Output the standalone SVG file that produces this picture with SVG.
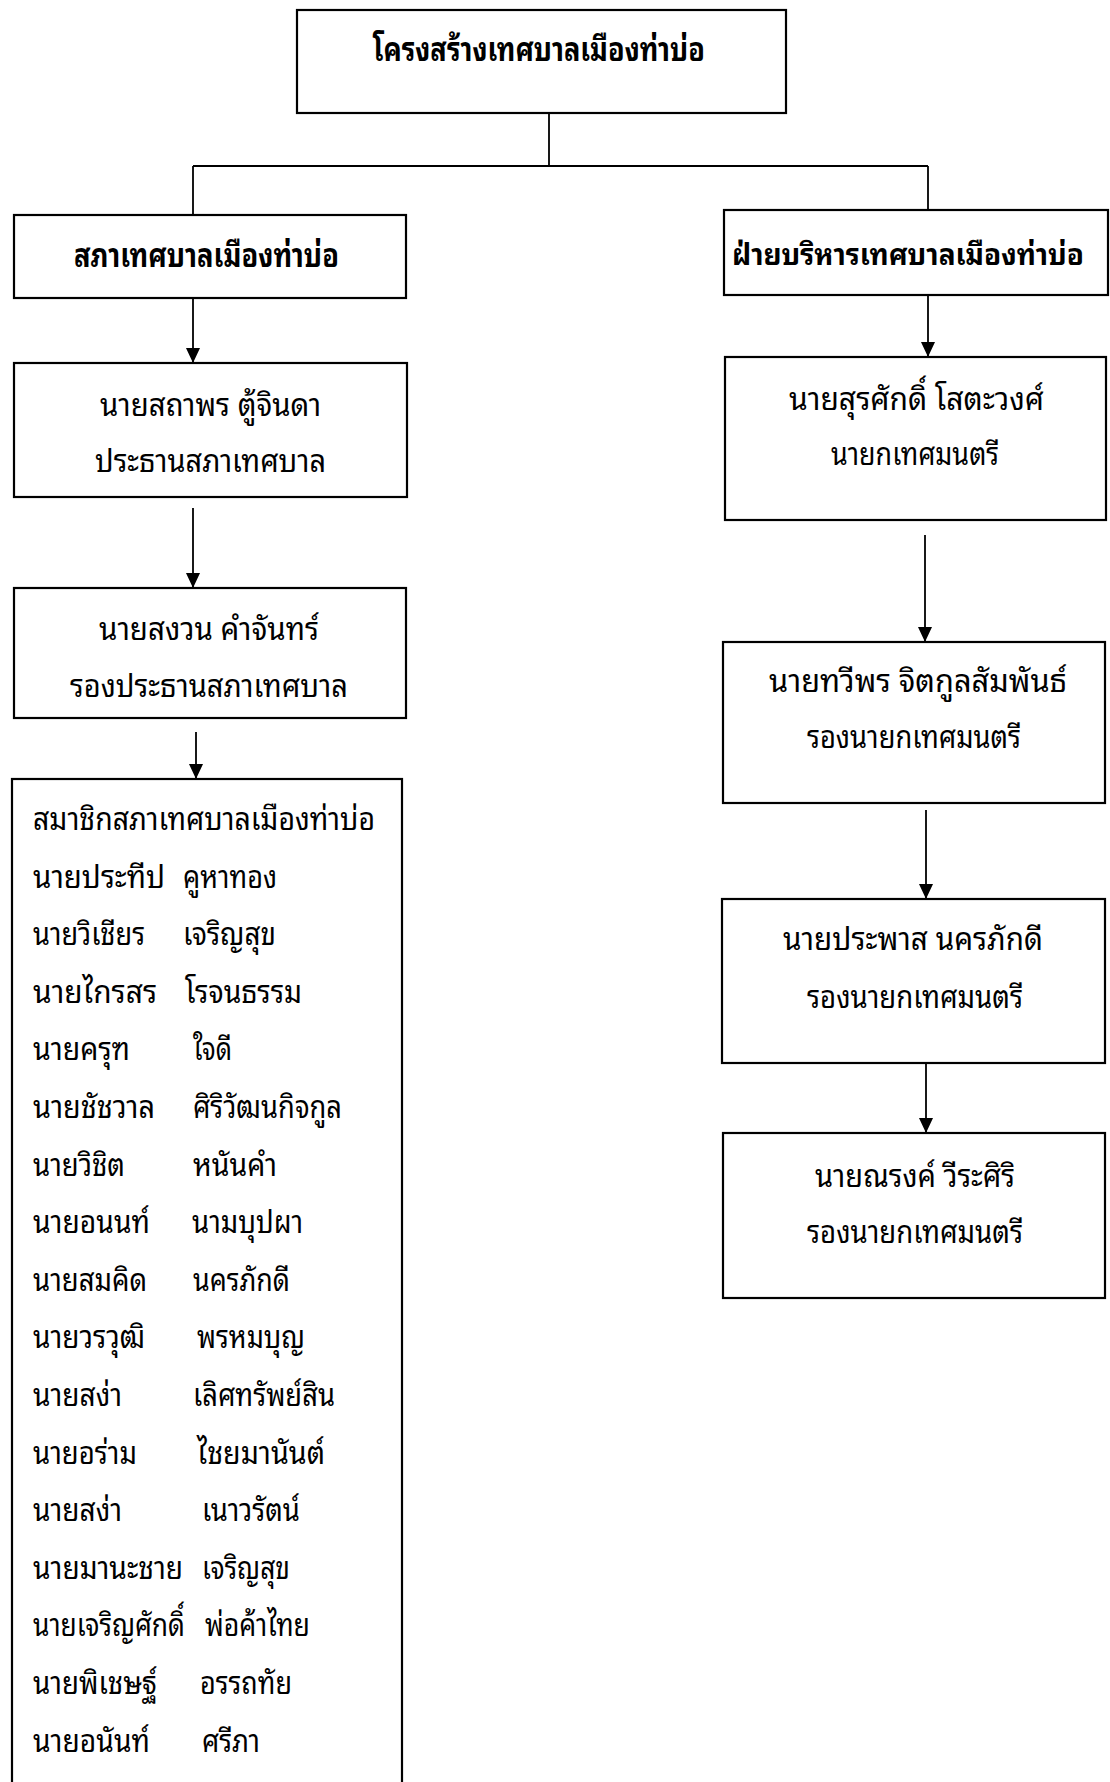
<svg xmlns="http://www.w3.org/2000/svg" width="1110" height="1782" viewBox="0 0 1110 1782">
<style>
.box{fill:#fff;stroke:#000;stroke-width:2.2}
.con{fill:none;stroke:#000;stroke-width:1.8}
text{font-family:"Noto Sans Thai Looped","Noto Serif Thai","Garuda","Loma","Noto Sans Thai","Noto Sans","DejaVu Sans",sans-serif;fill:#000;font-size:32px}
.b{font-weight:bold;font-size:33px}
.bs{font-size:29px}
</style>
<defs>
<marker id="ah" viewBox="0 0 15 14" refX="15" refY="7" markerWidth="15" markerHeight="14" markerUnits="userSpaceOnUse" orient="auto">
<path d="M0,0 L15,7 L0,14 z" fill="#000"/>
</marker>
</defs>
<rect width="1110" height="1782" fill="#fff"/>
<g id="connectors">
<path class="con" d="M549,113 V166 M193,166 H928 M193,166 V215 M928,166 V210"/>
<line class="con" x1="193" y1="286" x2="193" y2="363" marker-end="url(#ah)"/>
<line class="con" x1="193" y1="508" x2="193" y2="588" marker-end="url(#ah)"/>
<line class="con" x1="196" y1="732" x2="196" y2="779" marker-end="url(#ah)"/>
<line class="con" x1="928" y1="287" x2="928" y2="357" marker-end="url(#ah)"/>
<line class="con" x1="925" y1="535" x2="925" y2="642" marker-end="url(#ah)"/>
<line class="con" x1="926" y1="810" x2="926" y2="899" marker-end="url(#ah)"/>
<line class="con" x1="926" y1="1063" x2="926" y2="1133" marker-end="url(#ah)"/>
</g>
<g id="n-title">
<rect class="box" x="297" y="10" width="489" height="103"/>
<text class="b" x="373" y="61" textLength="332" lengthAdjust="spacingAndGlyphs">โครงสร้างเทศบาลเมืองท่าบ่อ</text>
</g>
<g id="n-council">
<rect class="box" x="14" y="215" width="392" height="83"/>
<text class="b" x="74" y="267" textLength="265" lengthAdjust="spacingAndGlyphs">สภาเทศบาลเมืองท่าบ่อ</text>
</g>
<g id="n-exec">
<rect class="box" x="724" y="210" width="384" height="85"/>
<text class="b bs" x="732" y="265" textLength="352" lengthAdjust="spacingAndGlyphs">ฝ่ายบริหารเทศบาลเมืองท่าบ่อ</text>
</g>
<g id="n-chair">
<rect class="box" x="14" y="363" width="393" height="134"/>
<text x="100" y="416" textLength="221" lengthAdjust="spacingAndGlyphs">นายสถาพร ตู้จินดา</text>
<text x="95" y="472" textLength="231" lengthAdjust="spacingAndGlyphs">ประธานสภาเทศบาล</text>
</g>
<g id="n-vicechair">
<rect class="box" x="14" y="588" width="392" height="130"/>
<text x="99" y="640" textLength="220" lengthAdjust="spacingAndGlyphs">นายสงวน คำจันทร์</text>
<text x="70" y="697" textLength="278" lengthAdjust="spacingAndGlyphs">รองประธานสภาเทศบาล</text>
</g>
<g id="n-members">
<rect class="box" x="12" y="779" width="390" height="1030"/>
<text x="33" y="830" textLength="342" lengthAdjust="spacingAndGlyphs">สมาชิกสภาเทศบาลเมืองท่าบ่อ</text>
<text x="33" y="887.6" textLength="132" lengthAdjust="spacingAndGlyphs">นายประทีป</text>
<text x="183" y="887.6" textLength="94" lengthAdjust="spacingAndGlyphs">คูหาทอง</text>
<text x="33" y="945.2" textLength="112" lengthAdjust="spacingAndGlyphs">นายวิเชียร</text>
<text x="183" y="945.2" textLength="93" lengthAdjust="spacingAndGlyphs">เจริญสุข</text>
<text x="33" y="1002.8" textLength="124" lengthAdjust="spacingAndGlyphs">นายไกรสร</text>
<text x="185" y="1002.8" textLength="117" lengthAdjust="spacingAndGlyphs">โรจนธรรม</text>
<text x="33" y="1060.4" textLength="97" lengthAdjust="spacingAndGlyphs">นายครุฑ</text>
<text x="193" y="1060.4" textLength="39" lengthAdjust="spacingAndGlyphs">ใจดี</text>
<text x="33" y="1118" textLength="122" lengthAdjust="spacingAndGlyphs">นายชัชวาล</text>
<text x="193" y="1118" textLength="149" lengthAdjust="spacingAndGlyphs">ศิริวัฒนกิจกูล</text>
<text x="33" y="1175.6" textLength="92" lengthAdjust="spacingAndGlyphs">นายวิชิต</text>
<text x="193" y="1175.6" textLength="84" lengthAdjust="spacingAndGlyphs">หนันคำ</text>
<text x="33" y="1233.2" textLength="117" lengthAdjust="spacingAndGlyphs">นายอนนท์</text>
<text x="192" y="1233.2" textLength="111" lengthAdjust="spacingAndGlyphs">นามบุปผา</text>
<text x="33" y="1290.8" textLength="114" lengthAdjust="spacingAndGlyphs">นายสมคิด</text>
<text x="193" y="1290.8" textLength="97" lengthAdjust="spacingAndGlyphs">นครภักดี</text>
<text x="33" y="1348.4" textLength="112" lengthAdjust="spacingAndGlyphs">นายวรวุฒิ</text>
<text x="197" y="1348.4" textLength="108" lengthAdjust="spacingAndGlyphs">พรหมบุญ</text>
<text x="33" y="1406" textLength="89" lengthAdjust="spacingAndGlyphs">นายสง่า</text>
<text x="193" y="1406" textLength="142" lengthAdjust="spacingAndGlyphs">เลิศทรัพย์สิน</text>
<text x="33" y="1463.6" textLength="104" lengthAdjust="spacingAndGlyphs">นายอร่าม</text>
<text x="197" y="1463.6" textLength="128" lengthAdjust="spacingAndGlyphs">ไชยมานันต์</text>
<text x="33" y="1521.2" textLength="89" lengthAdjust="spacingAndGlyphs">นายสง่า</text>
<text x="202" y="1521.2" textLength="98" lengthAdjust="spacingAndGlyphs">เนาวรัตน์</text>
<text x="33" y="1578.8" textLength="150" lengthAdjust="spacingAndGlyphs">นายมานะชาย</text>
<text x="202" y="1578.8" textLength="88" lengthAdjust="spacingAndGlyphs">เจริญสุข</text>
<text x="33" y="1636.4" textLength="152" lengthAdjust="spacingAndGlyphs">นายเจริญศักดิ์</text>
<text x="205" y="1636.4" textLength="105" lengthAdjust="spacingAndGlyphs">พ่อค้าไทย</text>
<text x="33" y="1694" textLength="124" lengthAdjust="spacingAndGlyphs">นายพิเชษฐ์</text>
<text x="200" y="1694" textLength="92" lengthAdjust="spacingAndGlyphs">อรรถทัย</text>
<text x="33" y="1751.6" textLength="117" lengthAdjust="spacingAndGlyphs">นายอนันท์</text>
<text x="202" y="1751.6" textLength="58" lengthAdjust="spacingAndGlyphs">ศรีภา</text>
</g>
<g id="n-mayor">
<rect class="box" x="725" y="357" width="381" height="163"/>
<text x="789" y="410" textLength="255" lengthAdjust="spacingAndGlyphs">นายสุรศักดิ์ โสตะวงศ์</text>
<text x="831" y="465" textLength="168" lengthAdjust="spacingAndGlyphs">นายกเทศมนตรี</text>
</g>
<g id="n-deputy1">
<rect class="box" x="723" y="642" width="382" height="161"/>
<text x="769" y="692" textLength="298" lengthAdjust="spacingAndGlyphs">นายทวีพร จิตกูลสัมพันธ์</text>
<text x="807" y="748" textLength="214" lengthAdjust="spacingAndGlyphs">รองนายกเทศมนตรี</text>
</g>
<g id="n-deputy2">
<rect class="box" x="722" y="899" width="383" height="164"/>
<text x="783" y="950" textLength="260" lengthAdjust="spacingAndGlyphs">นายประพาส นครภักดี</text>
<text x="807" y="1008" textLength="216" lengthAdjust="spacingAndGlyphs">รองนายกเทศมนตรี</text>
</g>
<g id="n-deputy3">
<rect class="box" x="723" y="1133" width="382" height="165"/>
<text x="815" y="1187" textLength="200" lengthAdjust="spacingAndGlyphs">นายณรงค์ วีระศิริ</text>
<text x="807" y="1243" textLength="216" lengthAdjust="spacingAndGlyphs">รองนายกเทศมนตรี</text>
</g>
</svg>
